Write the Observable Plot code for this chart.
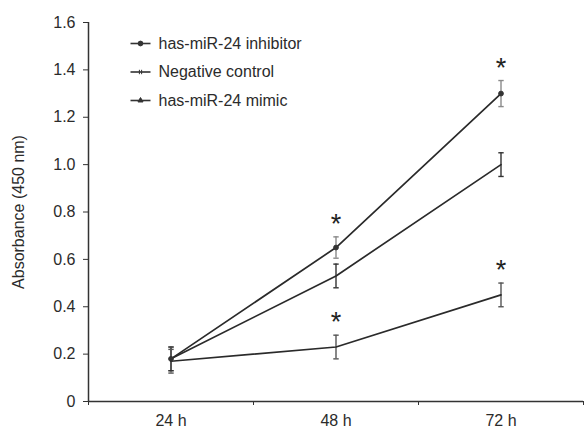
<!DOCTYPE html>
<html>
<head>
<meta charset="utf-8">
<script src="https://cdn.jsdelivr.net/npm/d3@7"></script>
<script src="https://cdn.jsdelivr.net/npm/@observablehq/plot@0.6"></script>
<style>
  html, body { margin: 0; padding: 0; background: #fff; }
  #chart { width: 584px; height: 429px; }
</style>
</head>
<body>
<div id="chart"></div>
<script>
const timepoints = ["24 h", "48 h", "72 h"];
const seriesNames = ["has-miR-24 inhibitor", "Negative control", "has-miR-24 mimic"];
const inhibitorMean = [0.18, 0.65, 1.30];
const inhibitorErr  = [0.05, 0.045, 0.055];
const controlMean   = [0.18, 0.53, 1.00];
const controlErr    = [0.05, 0.05, 0.05];
const mimicMean     = [0.17, 0.23, 0.45];
const mimicErr      = [0.05, 0.05, 0.05];
const significant = [
  {series: "has-miR-24 inhibitor", time: "48 h"},
  {series: "has-miR-24 inhibitor", time: "72 h"},
  {series: "has-miR-24 mimic", time: "48 h"},
  {series: "has-miR-24 mimic", time: "72 h"}
];
const yTicks = [0, 0.2, 0.4, 0.6, 0.8, 1.0, 1.2, 1.4, 1.6];

const ink = "#333";
const textInk = "#2b2b2b";
const means = [inhibitorMean, controlMean, mimicMean];
const errs = [inhibitorErr, controlErr, mimicErr];
const barColors = ["#8a8a8a", "#333", "#555"];

const capSymbol = {
  draw(ctx, size) {
    const r = Math.sqrt(size / Math.PI);
    ctx.moveTo(-r, 0);
    ctx.lineTo(r, 0);
  }
};
const doubleBar = {
  draw(ctx, size) {
    const r = Math.sqrt(size / Math.PI);
    ctx.moveTo(-r * 0.5, -r); ctx.lineTo(-r * 0.5, r);
    ctx.moveTo(r * 0.5, -r); ctx.lineTo(r * 0.5, r);
  }
};
const legendLine = {
  draw(ctx, size) {
    const r = Math.sqrt(size / Math.PI);
    ctx.moveTo(-r, 0);
    ctx.lineTo(r, 0);
  }
};
const symbols = ["circle", doubleBar, "triangle"];
const fills = [ink, "none", ink];
const symbolSizes = [2.4, 2.2, 1.9];

const data = [];
seriesNames.forEach((s, i) => {
  timepoints.forEach((t, j) => {
    data.push({series: s, si: i, time: t, xi: j + 0.5, y: means[i][j], err: errs[i][j]});
  });
});
const stars = significant.map(d => data.find(e => e.series === d.series && e.time === d.time));

const font = "Liberation Sans, Arial, sans-serif";

const legendMarks = seriesNames.flatMap((s, i) => {
  const dy = 21 + i * 28.5;
  return [
    Plot.dot([s], {frameAnchor: "top-left", dx: 52, dy, symbol: legendLine, r: 10, stroke: ink, strokeWidth: 1.6}),
    Plot.dot([s], {frameAnchor: "top-left", dx: 52, dy, symbol: symbols[i], r: symbolSizes[i], fill: fills[i], stroke: ink, strokeWidth: 1}),
    Plot.text([s], {frameAnchor: "top-left", dx: 70, dy, text: d => d, textAnchor: "start", lineAnchor: "middle", fontSize: 16, fill: textInk})
  ];
});

const chart = Plot.plot({
  width: 584,
  height: 429,
  marginLeft: 88,
  marginRight: 1,
  marginTop: 22,
  marginBottom: 28,
  style: {fontFamily: font, fontSize: "16px", color: textInk, background: "#fff"},
  x: {type: "linear", domain: [0, timepoints.length], axis: null},
  y: {domain: [0, 1.6], axis: null},
  marks: [
    // y axis
    Plot.axisY({ticks: yTicks, tickSize: 5, tickPadding: 8, tickFormat: d => d === 0 ? "0" : d.toFixed(1),
      fontSize: 16, stroke: ink, label: "Absorbance (450 nm)", labelAnchor: "center", labelArrow: "none", labelOffset: 76}),
    Plot.ruleX([0], {stroke: ink, strokeWidth: 1.5}),
    // x axis
    Plot.axisX({ticks: d3.range(timepoints.length + 1), tickSize: 4, tickFormat: () => "", stroke: ink, label: null}),
    Plot.axisX({ticks: timepoints.map((t, j) => j + 0.5), tickSize: 0, tickPadding: 13,
      tickFormat: d => timepoints[Math.floor(d)], fontSize: 16, label: null}),
    Plot.ruleY([0], {stroke: ink, strokeWidth: 1.5}),
    // error bars
    Plot.ruleX(data, {x: "xi", y1: d => d.y - d.err, y2: d => d.y + d.err, stroke: d => barColors[d.si], strokeWidth: 1.4}),
    Plot.dot(data, {x: "xi", y: d => d.y - d.err, symbol: capSymbol, r: 2.7, stroke: d => barColors[d.si], strokeWidth: 1.4}),
    Plot.dot(data, {x: "xi", y: d => d.y + d.err, symbol: capSymbol, r: 2.7, stroke: d => barColors[d.si], strokeWidth: 1.4}),
    // lines
    Plot.line(data, {x: "xi", y: "y", z: "series", stroke: "#2a2a2a", strokeWidth: 1.7}),
    Plot.dot(data.filter(d => d.si === 0), {x: "xi", y: "y", r: 2.4, fill: ink, stroke: ink, strokeWidth: 1}),
    // significance stars
    Plot.text(stars, {x: "xi", y: d => d.y + d.err, text: () => "*", dy: -4, lineAnchor: "bottom", fontSize: 27, fill: "#222"}),
    ...legendMarks
  ]
});
document.getElementById("chart").appendChild(chart);
</script>
</body>
</html>
